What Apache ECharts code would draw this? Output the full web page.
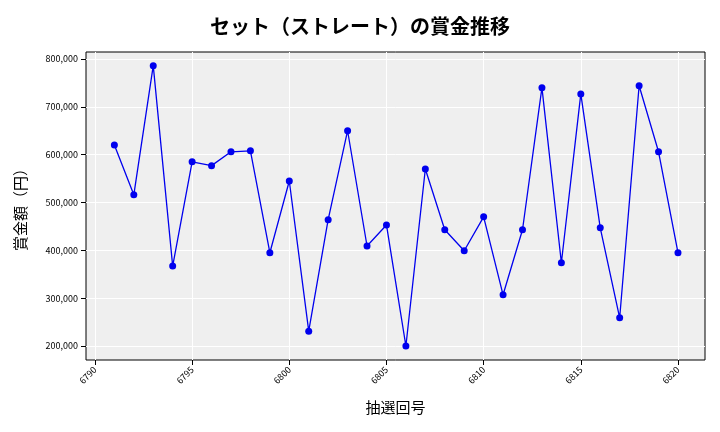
<!DOCTYPE html>
<html><head><meta charset="utf-8">
<script src="https://cdn.jsdelivr.net/npm/echarts@6/dist/echarts.min.js"></script>
<style>html,body{margin:0;padding:0;background:#fff}#c{width:720px;height:432px}</style>
</head><body><div id="c"></div>
<script>
const draws = [6791,6792,6793,6794,6795,6796,6797,6798,6799,6800,6801,6802,6803,6804,6805,6806,6807,6808,6809,6810,6811,6812,6813,6814,6815,6816,6817,6818,6819,6820];
const prizes = [620000,516000,786000,367000,585000,577000,606000,608000,395000,545000,231000,464000,650000,409000,453000,200000,570000,443000,399000,470000,307000,443000,740000,374000,727000,447000,259000,744000,606000,395000];
const xTicks = [6790,6795,6800,6805,6810,6815,6820];
const yTicks = [200000,300000,400000,500000,600000,700000,800000];
const font = '"Noto Sans CJK JP", "DejaVu Sans", sans-serif';
const chart = echarts.init(document.getElementById('c'));
chart.setOption({
  animation:false,
  title:{text:'セット（ストレート）の賞金推移',left:'center',top:11,textStyle:{fontFamily:font,fontSize:20,fontWeight:'bold',color:'#000'}},
  grid:{left:86,right:15,top:52,bottom:72,show:true,backgroundColor:'#efefef',borderColor:'#000',borderWidth:1},
  xAxis:{type:'value',min:6789.54,max:6821.39,name:'抽選回号',nameLocation:'middle',nameGap:40,
    nameTextStyle:{fontFamily:font,fontSize:15,color:'#000'},
    axisLine:{show:false},
    axisTick:{show:true,customValues:xTicks,lineStyle:{color:'#000'}},
    axisLabel:{customValues:xTicks,rotate:45,fontSize:9,color:'#000',fontFamily:font,formatter:v=>String(v)},
    splitLine:{show:true,lineStyle:{color:'#fff',width:1}}},
  yAxis:{type:'value',min:170700,max:814600,name:'賞金額（円）',nameLocation:'middle',nameGap:58,
    nameTextStyle:{fontFamily:font,fontSize:15,color:'#000'},
    axisLine:{show:false},
    axisTick:{show:true,customValues:yTicks,lineStyle:{color:'#000'}},
    axisLabel:{customValues:yTicks,fontSize:9,color:'#000',fontFamily:font,formatter:v=>v.toLocaleString('en-US')},
    splitLine:{show:true,lineStyle:{color:'#fff',width:1}}},
  series:[{type:'line',data:draws.map((d,i)=>[d,prizes[i]]),symbol:'circle',symbolSize:7,
    lineStyle:{color:'#0000ee',width:1.3},itemStyle:{color:'#0000ee'}}]
});
</script></body></html>
